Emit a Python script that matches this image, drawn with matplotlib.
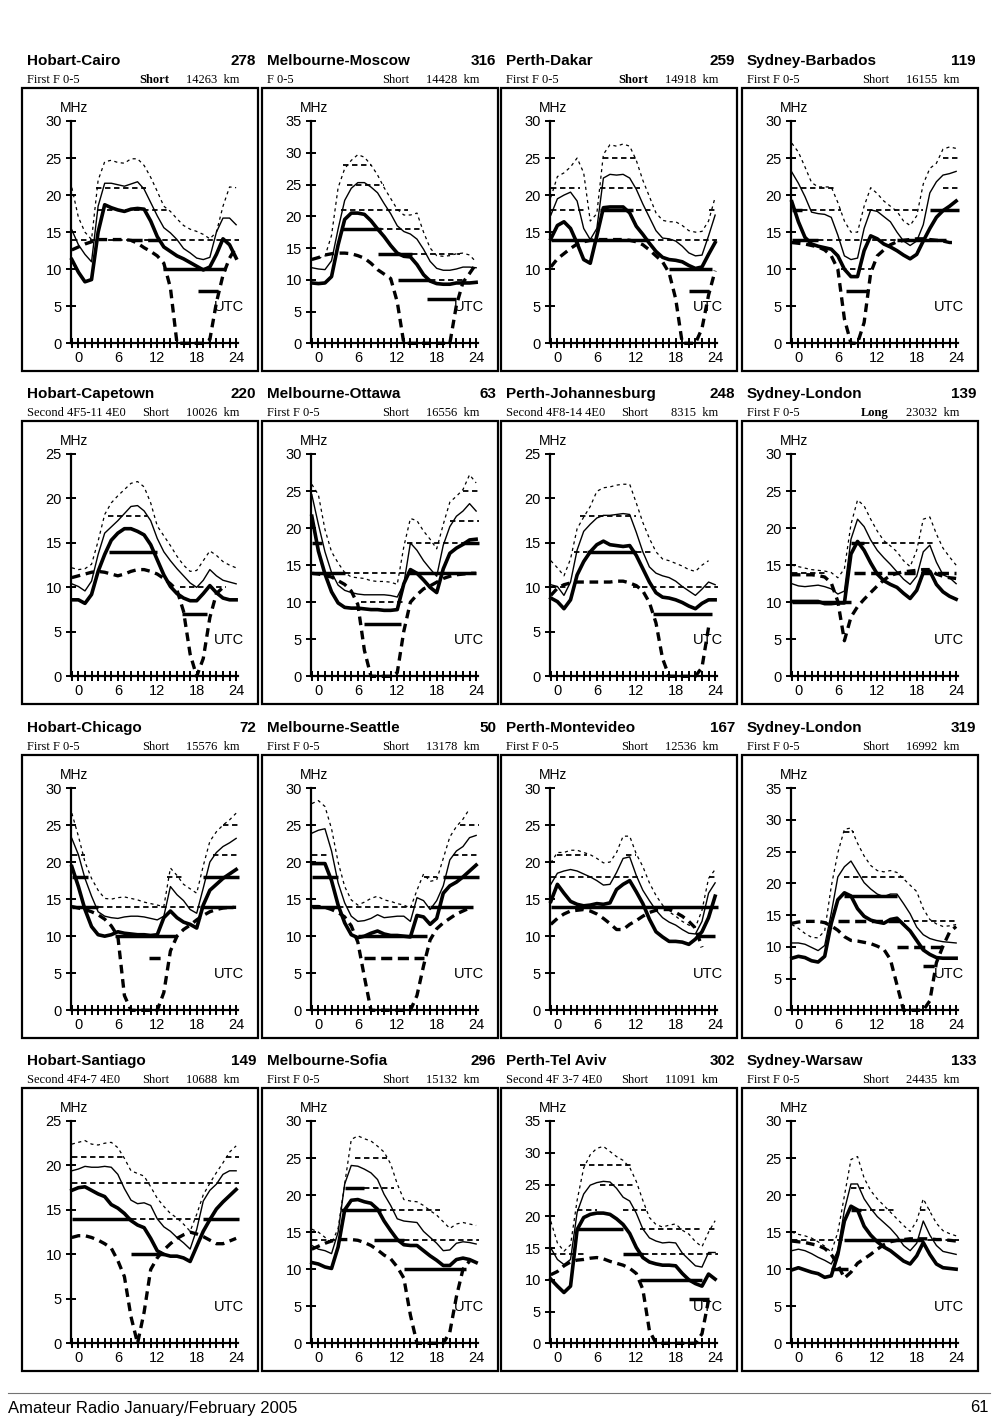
import numpy as np
import matplotlib
matplotlib.use("Agg")
import matplotlib.pyplot as plt
from matplotlib.patches import Rectangle
from matplotlib.lines import Line2D
from matplotlib.ticker import MultipleLocator

plt.rcParams['font.family'] = ['Liberation Sans', 'DejaVu Sans']

# hours along the x axis (the curves start at the y axis, just left of 0)
HOURS = list(range(-1, 25))

PATHS = ["Hobart-Cairo", "Melbourne-Moscow", "Perth-Dakar", "Sydney-Barbados",
         "Hobart-Capetown", "Melbourne-Ottawa", "Perth-Johannesburg", "Sydney-London",
         "Hobart-Chicago", "Melbourne-Seattle", "Perth-Montevideo", "Sydney-London",
         "Hobart-Santiago", "Melbourne-Sofia", "Perth-Tel Aviv", "Sydney-Warsaw"]
BEARING = [278, 316, 259, 119, 220, 63, 248, 139, 72, 50, 167, 319, 149, 296, 302, 133]
MODES = ["First F 0-5", "F 0-5", "First F 0-5", "First F 0-5",
         "Second 4F5-11 4E0", "First F 0-5", "Second 4F8-14 4E0", "First F 0-5",
         "First F 0-5", "First F 0-5", "First F 0-5", "First F 0-5",
         "Second 4F4-7 4E0", "First F 0-5", "Second 4F 3-7 4E0", "First F 0-5"]
ROUTE = ["Short", "Short", "Short", "Short", "Short", "Short", "Short", "Long",
         "Short", "Short", "Short", "Short", "Short", "Short", "Short", "Short"]
ROUTE_BOLD = [True, False, True, False, False, False, False, True,
              False, False, False, False, False, False, False, False]
DIST_KM = [14263, 14428, 14918, 16155, 10026, 16556, 8315, 23032,
           15576, 13178, 12536, 16992, 10688, 15132, 11091, 24435]
YMAX = [30, 35, 30, 30, 25, 30, 25, 30, 30, 30, 30, 35, 25, 30, 35, 30]

# dotted upper curve
UPPER = [
    [21, 17, 15, 14, 22, 24.5, 24.7, 24.4, 24.3, 24.9, 24.9, 24, 22.4, 20.5, 18.5, 17.8, 16.8, 15.9, 15.4, 15.1, 14.7, 14.1, 15, 18.5, 21.1, 21],
    [13.2, 13.4, 13.7, 17, 24.5, 27.5, 28.8, 29.7, 29.3, 28.1, 26.5, 24.5, 22.8, 21.1, 20.2, 20.2, 20.5, 17.5, 15, 13.8, 13.7, 13.8, 14.1, 14.2, 13.9, 12.8],
    [19.7, 22.5, 23, 23.8, 25, 23, 16.5, 17.5, 25.5, 26.8, 26.6, 26.9, 26.6, 24.7, 22, 19.8, 17.6, 16.6, 16.4, 16.4, 15.9, 15.2, 15, 15.1, 16.5, 19.7],
    [27, 25.8, 23.8, 21.7, 21.1, 21.1, 21.1, 19, 16.5, 15, 15, 18.5, 21, 20.2, 19.2, 18.5, 17.8, 16.5, 15.9, 17.2, 21.5, 23.6, 24.3, 26.2, 26.5, 26.3],
    [12.2, 12, 12.1, 12.6, 15.2, 18.2, 19.5, 20.3, 21, 21.7, 21.9, 21.3, 19.5, 16.9, 15.8, 14.7, 13.5, 12.5, 11.8, 11.9, 13, 14.1, 13.6, 12.9, 12.5, 12.2],
    [25.9, 24.5, 19.8, 16.8, 15.3, 14, 13.4, 13.3, 13.2, 12.9, 12.8, 12.8, 12.7, 12.4, 17.5, 21.3, 21, 19.6, 18.5, 17.2, 20.5, 23.5, 24.3, 25.2, 27.2, 26.1],
    [13, 12.2, 11.3, 13.2, 16.6, 17.9, 19.1, 20.8, 21.2, 21.3, 21.5, 21.6, 21.6, 19.5, 17.3, 15.5, 14, 13.2, 13, 12.7, 12.4, 12, 11.8, 12.5, 13, None],
    [15, 14.8, 14.6, 14.4, 14.3, 14.2, 14, 13.3, 14.5, 20.5, 23.8, 23, 21.2, 19.6, 18.3, 17.6, 16.8, 15.6, 14.8, 17, 21.2, 21.5, 19.2, 17.3, 16.1, 15],
    [26.6, 23.5, 20, 17.8, 16.2, 15.1, 15, 15.2, 15.3, 15.1, 14.9, 14.6, 14.4, 14.2, 14, 19.2, 18.2, 17, 16.4, 15.8, 19.5, 22.8, 24.1, 25, 25.7, 26.6],
    [27.9, 28.3, 27.5, 24.5, 20, 16.7, 14.9, 14.2, 14.6, 15.1, 15.4, 14.9, 14.7, 14.4, 14.2, 13.8, 16.2, 18.4, 17.4, 17.6, 20.5, 23.4, 24.8, 25.8, 27.2, None],
    [19.9, 21.3, 21.3, 21.6, 21.6, 21.3, 21, 20.5, 19.9, 20, 21.3, 23.5, 23.5, 21.1, 19.4, 17.2, 15.5, 14.2, 13.3, 12.7, 12, 11.5, 11.2, 13.5, 17.8, 19],
    [13.5, 12.9, 12.1, 11.5, 11.4, 12.5, 19.5, 24.8, 28.5, 28.7, 26.3, 24.3, 22.8, 22, 21.8, 22, 21.7, 20.7, 19.7, 18.7, 16, 14.3, 13.6, 13.2, 13.3, 13.5],
    [22.4, 22.6, 22.8, 22.4, 22.3, 22.5, 22.6, 22, 20.8, 19.4, 19.1, 18.8, 17.6, 16.3, 15.4, 14.6, 14.1, 13.4, 12.6, 14.5, 16.7, 18, 19.2, 20.3, 21.5, 22.2],
    [15.4, 15, 14.3, 13.5, 15.5, 21.5, 27.5, 28, 27.6, 27.3, 26.6, 25.8, 24.2, 21.5, 19.4, 19.2, 19.1, 18.6, 17.9, 17.3, 16.4, 15.5, 16.1, 16.3, 16.1, 15.9],
    [19.2, 15.8, 14.5, 15.5, 22.5, 27.6, 29.7, 30.7, 31, 30.2, 29.4, 28.8, 27.7, 25.5, 22.5, 19.8, 18.7, 18.3, 18.6, 18.8, 17.8, 17.2, 16, 15.2, 17.5, 19.3],
    [15, 14.7, 14.5, 14.2, 13.7, 13.1, 12.3, 15, 19.9, 24.8, 25.2, 22.3, 20.6, 19.5, 18.6, 17.7, 16.8, 15.9, 15.1, 16.5, 19.5, 17.8, 16.2, 15.2, 14.8, 14.5],
]

# thin solid curve
MUF = [
    [15.3, 13.3, 12, 11, 18.5, 21.6, 21.6, 21.4, 21.2, 21.5, 21.8, 20.8, 19, 17.2, 15.6, 14.9, 14, 12.8, 12.2, 11.5, 11.3, 11.6, 15, 16.9, 16.9, 16],
    [11.9, 11.7, 11.6, 13, 18, 22.5, 24.4, 25.3, 25.3, 24.6, 23.7, 22, 20.4, 18.5, 17.6, 17.2, 16.4, 14.8, 12.9, 11.8, 11.5, 11.5, 11.7, 12, 12, 11.9],
    [17.3, 19.5, 20, 20.4, 19.2, 15.5, 14, 15.5, 22.3, 22.8, 22.7, 22.8, 22.3, 20.8, 18.8, 17, 15.2, 14.2, 14.1, 13.8, 13.1, 12.2, 11.8, 11.9, 14.5, 17.3],
    [23.1, 21.6, 19.8, 17.7, 17.5, 17.4, 17, 14.6, 11.8, 11.3, 11.5, 15.5, 18, 17.8, 17.1, 16.4, 15, 13.8, 13.2, 13.8, 16, 20.3, 21.8, 22.7, 22.9, 23.2],
    [10.4, 10.1, 9.6, 10.7, 13.7, 16.1, 16.8, 17.5, 18.3, 19.1, 19.2, 18.6, 17.5, 15.5, 14, 13, 12.1, 11.3, 10.5, 10, 10.8, 12, 11.3, 10.8, 10.6, 10.4],
    [24.5, 20.5, 16.8, 14, 12.3, 11.6, 11.3, 11.1, 11, 11, 11, 11, 10.9, 10.7, 12.5, 18, 17, 15.6, 14.5, 13.5, 17.7, 20.2, 21.6, 22.3, 23.3, 22.3],
    [10.3, 10.1, 9.1, 10.6, 14.2, 16.3, 17.1, 17.8, 18.1, 18.1, 18.2, 18.3, 18.2, 16.2, 14, 12.3, 11.6, 11.3, 11.1, 10.7, 10.1, 9.6, 9.1, 9.8, 10.6, 10.3],
    [12.5, 12.2, 12.1, 12.2, 12.3, 12.1, 11.8, 11.1, 11.5, 18.5, 21.2, 20.2, 18.4, 17, 16, 15.1, 14.1, 13.1, 12.4, 13.5, 16.8, 17.7, 15.4, 13.7, 13.3, 12.5],
    [23.2, 21, 17.8, 15.4, 13.3, 12.7, 12.5, 12.4, 12.6, 12.7, 12.7, 12.6, 12.4, 12.2, 12.7, 16.7, 15.6, 14.8, 13.6, 13.1, 16.5, 20, 21.3, 22.1, 22.6, 23.2],
    [23.9, 24.3, 24.5, 21.5, 17.2, 14.5, 12.7, 12, 12.1, 12.4, 12.9, 12.5, 12.6, 12.7, 12.7, 12, 15.2, 14.8, 13.6, 14.8, 16.8, 20.3, 21.5, 22.1, 23.3, 23.6],
    [17, 18.5, 18.8, 19, 18.8, 18.4, 18, 17.5, 16.9, 17, 18.6, 20.5, 20.7, 18.2, 16.2, 14.8, 13.5, 12.5, 11.9, 11.5, 10.9, 10.4, 10.3, 12, 15.8, 17.2],
    [10.6, 10.6, 10.4, 9.9, 9.4, 10.2, 15.3, 21, 22.6, 23.5, 21.8, 20.1, 19.1, 18.3, 17.9, 18.3, 18.3, 16.8, 15.2, 13.1, 11.9, 11.3, 11, 10.8, 10.7, 10.6],
    [19.4, 19.6, 19.9, 19.8, 19.8, 19.9, 19.8, 19, 17.4, 16.1, 15.7, 15.8, 15.5, 14, 13.1, 12.6, 11.9, 11.3, 10.6, 12.8, 16, 17.2, 17.9, 19, 19.4, 19.4],
    [13.2, 12.7, 12.5, 12.1, 15, 21.5, 24, 23.9, 23.5, 23, 22.1, 20.1, 18.6, 16.8, 16.5, 16.4, 16.3, 15.1, 14.3, 13.5, 12.5, 12.6, 13.5, 13.7, 13.6, 13.4],
    [15, 13.2, 12.4, 13.2, 20.6, 23.5, 24.9, 25.3, 25.5, 25.4, 24.4, 23, 22.4, 20.5, 18, 16.6, 16.1, 15.8, 15.9, 15.8, 14.2, 13.2, 12.2, 12, 14.3, 14.3],
    [12.5, 12.7, 12.5, 12.1, 11.6, 11.2, 10.7, 12.5, 18, 21.5, 21.5, 19.5, 18.2, 17.1, 16.3, 15.5, 14.5, 13.2, 12.5, 13.5, 16.5, 14.6, 13.2, 12.4, 12.2, 12],
]

# thick solid curve
OPT = [
    [11.3, 9.6, 8.3, 8.6, 15, 18.7, 18.3, 18, 17.8, 18.1, 18.2, 18.1, 16.5, 14.4, 13, 12.4, 11.8, 11.4, 10.9, 10.4, 9.9, 10.3, 12, 14.1, 13.3, 11.5],
    [9.5, 9.4, 9.5, 10.5, 15.5, 19.5, 20.5, 20.5, 20.3, 19.3, 18, 16.8, 15.4, 14.2, 13.7, 13.6, 12.4, 10.8, 9.8, 9.4, 9.3, 9.3, 9.5, 9.5, 9.5, 9.6],
    [14.1, 15.9, 16.4, 15.5, 13.5, 11.3, 10.8, 14.5, 18.3, 18.4, 18.4, 18.4, 17.6, 15.8, 14.7, 13.5, 12.4, 11.6, 11.3, 11.2, 11, 10.5, 10.1, 10.3, 12, 13.6],
    [19.1, 16.4, 14.3, 13.4, 13.1, 12.9, 12.7, 11.8, 10, 9, 9, 12.5, 14.5, 14.1, 13.4, 13, 12.5, 11.9, 11.4, 12, 13.8, 15.5, 17, 17.9, 18.5, 19.2],
    [8.6, 8.6, 8.2, 9.2, 11.8, 13.7, 15.3, 16.1, 16.6, 16.6, 16.3, 15.9, 14.8, 13.1, 11.4, 10.1, 9.3, 8.8, 8.5, 8.5, 9.3, 10.2, 9.4, 8.8, 8.6, 8.6],
    [21.6, 16.9, 13.8, 11.4, 9.9, 9.3, 9.2, 9.2, 9.1, 9, 9, 8.9, 8.9, 9, 12.5, 14.4, 13.9, 13, 12, 11.3, 14.5, 16.6, 17.3, 17.8, 18.4, 18.5],
    [8.8, 8.4, 7.6, 8.6, 11.4, 12.9, 14, 14.8, 15.2, 14.8, 14.7, 14.6, 14.7, 13.6, 12.1, 10.6, 9.4, 8.9, 8.8, 8.6, 8.3, 7.9, 7.6, 8.2, 8.6, 8.6],
    [10.1, 10.1, 10.1, 10.1, 10.1, 9.8, 9.8, 9.9, 9.9, 16.5, 18.2, 17, 15.3, 13.8, 12.9, 12.4, 12, 11.2, 10.5, 11.6, 14, 14.2, 12.4, 11.4, 10.8, 10.4],
    [19.4, 16.7, 13.6, 11.3, 10.2, 10, 10.2, 10.6, 10.4, 10.3, 10.2, 10.2, 10.1, 10.2, 12.5, 13.4, 12.5, 11.9, 11.6, 11.1, 14.2, 16.2, 17, 17.8, 18.4, 19],
    [19.8, 19.8, 19.8, 17.5, 14.2, 11.8, 10.2, 9.8, 10, 10.4, 10.7, 10.3, 10.1, 10.1, 10, 9.9, 12.8, 12.6, 11.6, 12.4, 15.8, 16.8, 17.3, 18, 18.8, 19.6],
    [14.7, 17, 15.8, 14.7, 14.3, 14.1, 14.2, 14.4, 14.3, 14.5, 16.3, 17, 17.5, 16, 14.4, 12.3, 10.6, 9.9, 9.3, 9.3, 9.2, 8.9, 9.6, 10.6, 12.5, 15.4],
    [8.2, 8.5, 8.3, 7.8, 7.6, 8.5, 13.7, 17.4, 18.5, 18, 16, 14.8, 14.2, 13.9, 13.7, 14.3, 14.5, 13.5, 12.5, 11, 9.5, 8.8, 8.3, 8.2, 8.2, 8.2],
    [17.2, 17.5, 17.6, 17.2, 16.8, 16.5, 15.6, 15.2, 14.6, 13.8, 13.3, 13, 11.8, 10.4, 10, 9.8, 9.8, 9.6, 9.2, 10.9, 12.6, 13.9, 15.1, 15.9, 16.6, 17.3],
    [10.9, 10.7, 10.3, 10.1, 13, 18, 19.3, 19.4, 19.1, 18.9, 18.1, 16.5, 15.2, 14, 13.3, 13.2, 13.2, 12.5, 11.8, 11.2, 10.5, 10.5, 11.3, 11.5, 11.3, 10.9],
    [10.1, 9, 8, 9, 17.9, 19.8, 20.3, 20.5, 20.5, 20.3, 19.6, 18.7, 17.3, 15.1, 13.5, 12.8, 12.5, 12.3, 12.3, 12.2, 11, 10, 9.4, 9, 10.9, 10.1],
    [9.9, 10.2, 9.9, 9.6, 9.4, 8.9, 9.1, 12, 16.5, 18.5, 18, 15.8, 14.6, 13.7, 13, 12.5, 11.8, 11.1, 10.7, 11.8, 13.6, 12, 10.7, 10.2, 10.1, 10],
]

# thick dashed lower curve
LOWER = [
    [12.6, 13, 13.4, 13.7, 14, 14, 14, 14, 14, 13.9, 13.5, 12.9, 12.4, 11.8, 10.8, 7.5, 0, 0, 0, 0, 0, 0.5, 5.5, 9.2, 11.5, 13],
    [13.2, 13.5, 13.9, 14.1, 14.2, 14.2, 14.1, 13.8, 13.4, 12.6, 11.6, 10.9, 10.2, 6.5, 0, 0, 0, 0, 0, 0, 0, 0, 6, 9.6, 11, 12.5],
    [10.3, 11.4, 12.1, 12.8, 13.4, 13.7, 13.9, 14, 14, 14, 14, 14, 13.9, 13.7, 13.3, 12.6, 11.8, 11, 9.5, 6, 0, 0, 0, 2, 6.5, 9.8],
    [13.6, 13.5, 13.4, 13.2, 13, 12.6, 11.8, 10, 3.3, 0, 0, 2.8, 9.5, 11.8, 12.6, 13.3, 13.7, 13.9, 14, 14.1, 14.1, 14, 13.9, 13.8, 13.6, 13.6],
    [11.1, 11.3, 11.5, 11.7, 11.8, 11.7, 11.5, 11.3, 11.5, 11.8, 12, 12, 11.8, 11.5, 11, 10.4, 9.7, 7.3, 2.5, 0, 2, 6.6, 9.3, 10, None, None],
    [13.9, 13.8, 13.6, 13.4, 12.9, 12.4, 11.5, 9.7, 3.5, 0, 0, 0, 0, 0.5, 6.1, 10, 11, 11.8, 12.2, 12.7, 13.2, 13.5, 13.7, 13.8, 13.9, 13.9],
    [9.1, 9.9, 10.3, 10.5, 10.6, 10.6, 10.6, 10.6, 10.6, 10.6, 10.7, 10.7, 10.5, 10.2, 9.6, 8.3, 6, 2, 0, 0, 0, 0, 0, 1, 5.5, None],
    [13.7, 13.7, 13.7, 13.7, 13.6, 13.4, 12.6, 10.1, 4.8, 8, 9.4, 10.4, 11.3, 12.2, 13, 13.6, 13.9, 14.1, 14.2, 14.3, 14.4, 14.4, 13.8, 13.5, 13.3, 13.2],
    [14, 13.8, 13.6, 13.3, 12.9, 12.3, 11.4, 10, 2, 0, 0, 0, 0, 0, 2.4, 8, 10, 10.9, 11.5, 12.2, 12.8, 13.3, 13.6, 13.8, 13.9, 13.9],
    [14, 14, 13.9, 13.6, 13.2, 12.6, 11.4, 9.2, 4.5, 0, 0, 0, 0, 0, 0, 0, 2, 6, 9.5, 11, 11.8, 12.4, 13, 13.4, 13.8, None],
    [11.6, 12.4, 13, 13.4, 13.5, 13.6, 13.4, 13, 12.4, 11.7, 10.9, 10.9, 11.6, 12.1, 12.7, 13.2, 13.5, 13.6, 13.6, 13.2, 12.7, 12, 11.1, 8.5, None, None],
    [13.7, 13.9, 14, 14, 14, 13.8, 13.3, 12.6, 11.6, 11, 10.9, 10.7, 10.5, 10.1, 9.6, 8, 4, 0, 0, 0, 0, 1.5, 7.5, 10.1, 12.3, 13.2],
    [11.9, 12.1, 12.1, 11.9, 11.6, 11.2, 10.7, 9.3, 7.5, 3, 0, 3.5, 8.3, 9.6, 10.5, 11.2, 11.8, 12.2, 12.5, 12.3, 12, 11.6, 11.2, 11.2, 11.5, 11.8],
    [12.7, 13.1, 13.5, 13.8, 14, 14, 14, 13.9, 13.6, 13.2, 12.6, 11.9, 11.4, 10.3, 8.8, 3.8, 0, 0, 0, 0, 0, 1.5, 6.3, 10, 11.1, None],
    [10.8, 11.3, 12.2, 12.8, 13.1, 13.2, 13.4, 13.5, 13.3, 12.9, 12.6, 12.3, 11.8, 11, 8.5, 2, 0, 0, 0, 0, 0, 0, 0, 1.5, 6.8, None],
    [13.8, 13.7, 13.6, 13.4, 13.2, 12.8, 12, 10.6, 8.8, 9.6, 10.8, 11.4, 12, 12.7, 13.3, 13.7, 13.9, 14, 14.1, 14.1, 14.1, 14.1, 14, 14, 13.9, 13.8],
]

# band segments (MHz, from hour, to hour)
BAND_DASH = [
    [(21, 2.7, 10.3), (18, 3, 14), (14, -1, 24.5)],
    [(28, 3.7, 8), (25, 4.4, 10), (21, 3.4, 13.7), (18, 9, 15.7), (14, 14.2, 21.5), (10, 17, 22)],
    [(25, 7, 12), (21, -1, 3.5), (21, 6.5, 12.5), (18, -1, 4), (18, 12, 14.5), (18, 23, 24.5), (14, 12.6, 24.3)],
    [(25, 22, 24.5), (21, -1, 5.5), (21, 22, 24.5), (18, 0.5, 6.5), (18, 10.5, 19), (14, 3, 15), (10, 6.5, 11)],
    [(18, 4.5, 10.5), (10, 15.5, 22.5)],
    [(25, 22, 24.5), (21, 20, 24.5), (18, 13.5, 22), (14, 4, 13.5), (10, 6.5, 13)],
    [(18, 3.5, 12), (14, 2.5, 4.5), (14, 12, 14.5), (10, -1, 1.5), (10, 11.5, 24.5)],
    [(18, 10, 21), (14, -1, 4.5)],
    [(25, 22, 24.5), (21, -1, 1), (21, 20.5, 24.5), (18, 13.5, 16), (14, 3, 18.5)],
    [(25, 21.5, 24.5), (21, -1, 1.5), (21, 20.5, 24.5), (18, 16, 18), (14, 3, 17)],
    [(21, 0, 4.5), (21, 10.5, 12), (18, -1, 13), (18, 23, 24.5)],
    [(28, 7, 8.5), (21, 7, 16), (14, 16, 24)],
    [(21, -1, 7), (21, 22.5, 24.5), (18, -1, 24.5), (14, 8, 19)],
    [(25, 5.5, 10.5), (21, 7, 11.5), (18, 9.5, 18.5), (14, -1, 4), (14, 13, 24.5)],
    [(28, 3.5, 11.5), (25, 6.5, 12), (21, 3, 6), (21, 10, 13.5), (18, 12.5, 22), (18, 23, 24.5), (14, -1, 4.5), (14, 13, 24.5)],
    [(21, 8, 10), (18, 9.5, 14.5), (18, 18.5, 20), (14, -1, 24.5)],
]
BAND_SOLID = [
    [(10, 12.8, 22.5), (7, 18.2, 21.2)],
    [(18, 3.4, 9.5), (14, 9, 14.2), (10, 12.1, 17), (7, 16.5, 21)],
    [(18, 6.5, 11.5), (14, -1, 14), (10, 17, 23.5), (7, 20, 23)],
    [(18, -1, 0.5), (18, 20, 24.5), (14, -1, 3), (14, 15, 22.5), (7, 7.3, 10.5)],
    [(14, 4.6, 11.9), (7, 15.8, 19.5)],
    [(18, -1, 0.5), (18, 22, 24.5), (14, -1, 4), (14, 13.5, 24), (7, 7, 12.5)],
    [(14, 4.5, 12), (7, 14.5, 23.5)],
    [(10, -1, 8), (18, 8, 10)],
    [(18, -1, 1.5), (18, 19, 24.5), (14, -1, 3), (14, 18.5, 23.5), (10, 5.5, 15)],
    [(18, -1, 3), (18, 19, 24.5), (14, -1, 3), (14, 17, 23.5), (10, 6, 16.5)],
    [(14, -1, 24.5), (10, 21.5, 24)],
    [(18, 7, 15)],
    [(14, -1, 8), (14, 19, 24.5), (10, 8, 13)],
    [(21, 4, 7), (18, 3.5, 9.5), (14, 8.5, 13), (10, 13, 22.5)],
    [(18, 3, 10), (14, 10, 13), (10, 12.5, 22), (7, 20, 23)],
    [(14, 7, 19), (10, 5, 7.5), (18, 8, 9.5)],
]
BAND_LONG = [
    [(14, 8, 13)], [], [], [], [], [], [], [(14, 8.5, 24)],
    [(7, 10.7, 12.7)], [(7, 7, 16)], [], [(14, 6, 16), (10, 15, 22), (7, 19, 21)],
    [], [], [], [],
]

W, H = 1000, 1421
fig = plt.figure(figsize=(W / 100, H / 100), dpi=100)


def fx(px):
    return px / W


def fy(py):
    return 1 - py / H


BOX_LEFT = [22, 262, 501, 742]
BOX_TOP = [88, 421, 755, 1088]
BOX_W, BOX_H = 236, 283
hrs = np.array(HOURS, dtype=float)

for i in range(16):
    r, c = divmod(i, 4)
    bl, bt = BOX_LEFT[c], BOX_TOP[r]

    # headings above the box
    fig.text(fx(bl + 5), fy(bt - 27), PATHS[i], fontsize=11, fontweight='bold', ha='left', va='center')
    fig.text(fx(bl + BOX_W - 2), fy(bt - 27), str(BEARING[i]), fontsize=11, fontweight='bold', ha='right', va='center')
    fig.text(fx(bl + 5), fy(bt - 8), MODES[i], fontsize=9, family='Liberation Serif', ha='left', va='center')
    fig.text(fx(bl + BOX_W - 89), fy(bt - 8), ROUTE[i], fontsize=9, family='Liberation Serif',
             fontweight='bold' if ROUTE_BOLD[i] else 'normal', ha='right', va='center')
    fig.text(fx(bl + BOX_W - 19), fy(bt - 8), f"{DIST_KM[i]}  km", fontsize=9, family='Liberation Serif',
             ha='right', va='center')

    fig.add_artist(Rectangle((fx(bl), fy(bt + BOX_H)), BOX_W / W, BOX_H / H, transform=fig.transFigure,
                             fill=False, lw=1.6, ec='black'))

    ax = fig.add_axes([fx(bl + 49.3), fy(bt + 33 + 222.3), 166.8 / W, 222.3 / H])
    ax.patch.set_visible(False)
    ax.set_xlim(-1.08, 24.3)
    ax.set_ylim(0, YMAX[i])
    for s in ['top', 'right']:
        ax.spines[s].set_visible(False)
    for s in ['left', 'bottom']:
        ax.spines[s].set_linewidth(1.6)
    ax.xaxis.set_major_locator(MultipleLocator(6))
    ax.xaxis.set_minor_locator(MultipleLocator(1))
    ax.yaxis.set_major_locator(MultipleLocator(5))
    ax.tick_params(axis='x', which='both', direction='inout', length=6.5, width=1.4, pad=2.5, labelsize=10.5)
    ax.tick_params(axis='y', which='major', direction='inout', length=7.5, width=1.4, pad=3, labelsize=10.5)

    fig.text(fx(bl + 52), fy(bt + 20), 'MHz', fontsize=10, ha='center', va='center')
    ax.text(22.9, YMAX[i] * 0.165, 'UTC', fontsize=10.5, ha='center', va='center')

    ax.plot(hrs, np.array(LOWER[i], dtype=float), color='black', lw=2.4, ls=(0, (2.6, 1.7)), clip_on=False)
    for f, h0, h1 in BAND_DASH[i]:
        ax.plot([h0, h1], [f, f], color='black', lw=1.3, ls=(0, (3.0, 2.0)), clip_on=False)
    for f, h0, h1 in BAND_LONG[i]:
        ax.plot([h0, h1], [f, f], color='black', lw=2.5, ls=(0, (3.2, 1.6)), clip_on=False)
    for f, h0, h1 in BAND_SOLID[i]:
        ax.plot([h0, h1], [f, f], color='black', lw=2.5, solid_capstyle='butt', clip_on=False)
    ax.plot(hrs, np.array(UPPER[i], dtype=float), color='black', lw=0.9, ls=(0, (2.5, 2.8)), clip_on=False)
    ax.plot(hrs, np.array(MUF[i], dtype=float), color='black', lw=1.0, clip_on=False)
    ax.plot(hrs, np.array(OPT[i], dtype=float), color='black', lw=2.6, clip_on=False)

# page footer
fig.add_artist(Line2D([fx(8), fx(990)], [fy(1393), fy(1393)], transform=fig.transFigure, color='0.45', lw=0.8))
fig.text(fx(8), fy(1408), 'Amateur Radio January/February 2005', fontsize=12, ha='left', va='center')
fig.text(fx(989), fy(1408), '61', fontsize=12, ha='right', va='center')

fig.savefig('out.png', dpi=100, facecolor='white')
